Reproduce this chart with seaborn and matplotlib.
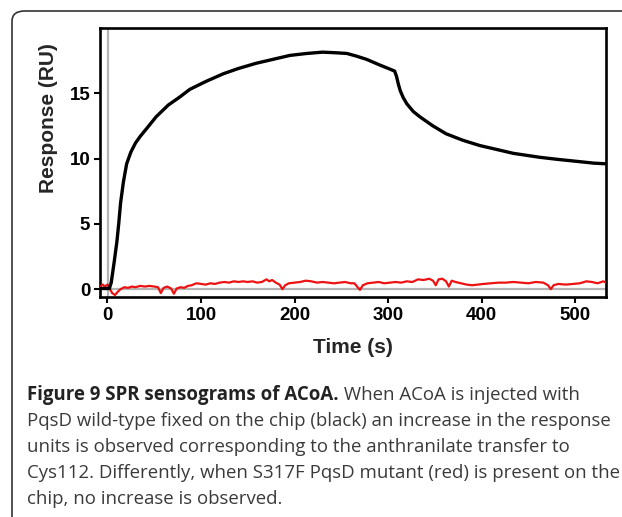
#%%
'''PACKAGE IMPORTS'''
import pandas as pd
import matplotlib.pyplot as plt
import numpy as np
import seaborn as sns
from matplotlib.patches import FancyBboxPatch

#%%
'''Data read off the sensogram'''
#PqsD wild-type (black trace)
wtTime = [-8, 2, 4, 7, 10, 12, 14, 17, 20.5, 25, 30, 35, 43, 52, 65, 77, 88,
          105, 124, 140, 159, 177, 195, 213, 230, 245, 256, 266, 277, 290,
          302, 307, 309, 311, 313, 316, 320, 327, 334, 348, 362, 380, 398,
          416, 434, 448, 462, 480, 500, 520, 533]
wtResp = [0.05, 0.05, 0.5, 2.0, 3.6, 5.0, 6.6, 8.2, 9.6, 10.5, 11.2, 11.7,
          12.4, 13.2, 14.1, 14.7, 15.3, 15.9, 16.5, 16.9, 17.3, 17.6, 17.9,
          18.05, 18.15, 18.1, 18.05, 17.85, 17.6, 17.2, 16.85, 16.7, 16.3,
          15.7, 15.2, 14.7, 14.2, 13.6, 13.2, 12.5, 11.9, 11.4, 11.0, 10.7,
          10.4, 10.25, 10.1, 9.95, 9.8, 9.65, 9.6]

#S317F PqsD mutant (red trace)
mutTime = [-8, -5, -3, 0, 2, 5, 8, 11, 14, 18, 22, 26, 30, 35, 40, 45, 50,
           54, 57, 60, 64, 68, 71, 74, 78, 82, 86, 90, 95, 100, 105, 110,
           115, 120, 125, 130, 135, 140, 145, 150, 155, 160, 165, 170, 173,
           176, 180, 184, 187, 190, 194, 200, 206, 212, 218, 224, 230, 236,
           242, 248, 254, 260, 264, 268, 270, 273, 278, 284, 290, 296, 302,
           308, 314, 320, 326, 332, 338, 344, 348, 351, 354, 358, 362, 365,
           368, 372, 378, 384, 390, 396, 402, 410, 418, 426, 434, 442, 450,
           458, 466, 471, 474, 477, 482, 490, 498, 505, 512, 518, 524, 530, 533]
mutResp = [0.2, 0.35, 0.2, 0.35, 0.1, -0.3, -0.45, -0.2, 0.0, 0.15, 0.1, 0.2,
           0.15, 0.25, 0.2, 0.25, 0.2, 0.15, -0.3, 0.1, 0.2, 0.05, -0.35,
           0.05, 0.15, 0.1, 0.25, 0.3, 0.45, 0.4, 0.35, 0.45, 0.4, 0.5, 0.55,
           0.5, 0.6, 0.55, 0.6, 0.55, 0.6, 0.5, 0.55, 0.75, 0.6, 0.7, 0.5,
           0.35, 0.0, 0.3, 0.45, 0.5, 0.55, 0.65, 0.6, 0.5, 0.55, 0.5, 0.45,
           0.5, 0.55, 0.45, 0.45, 0.1, -0.05, 0.3, 0.45, 0.5, 0.55, 0.45, 0.5,
           0.55, 0.5, 0.6, 0.55, 0.75, 0.7, 0.8, 0.65, 0.3, 0.75, 0.8, 0.6,
           0.2, 0.65, 0.55, 0.45, 0.35, 0.3, 0.35, 0.4, 0.45, 0.5, 0.5, 0.55,
           0.5, 0.45, 0.55, 0.5, 0.3, 0.0, 0.3, 0.4, 0.35, 0.4, 0.45, 0.6,
           0.55, 0.45, 0.6, 0.5]

xTicks = [0, 100, 200, 300, 400, 500]
yTicks = [0, 5, 10, 15]

captionBold = 'Figure 9 SPR sensograms of ACoA.'
captionLines = [' When ACoA is injected with',
                'PqsD wild-type fixed on the chip (black) an increase in the response',
                'units is observed corresponding to the anthranilate transfer to',
                'Cys112. Differently, when S317F PqsD mutant (red) is present on the',
                'chip, no increase is observed.']

wt = pd.DataFrame({'Time': wtTime, 'Response': wtResp})
mut = pd.DataFrame({'Time': mutTime, 'Response': mutResp})

#%%
'''Plot'''
sns.set_style('ticks')
plt.rcParams['font.family'] = ['Liberation Sans', 'DejaVu Sans']

fig = plt.figure(figsize=(6.22, 5.17), dpi=100)
ax = fig.add_axes([100/622, 1 - 297/517, 506/622, 269/517])

#Reference lines
ax.axvline(0.5, color='#b4b4b4', linewidth=1.6, zorder=1)
ax.hlines(0, 0.5, 533, color='#b4b4b4', linewidth=1.6, zorder=1)

sns.lineplot(data=mut, x='Time', y='Response', ax=ax,
             color='#ee1111', linewidth=1.6, zorder=3)
sns.lineplot(data=wt, x='Time', y='Response', ax=ax,
             color='black', linewidth=2.4, zorder=4)

#Figure Specifications
ax.set_xlim(-8, 533)
ax.set_ylim(-0.6, 20)
ax.set_xticks(xTicks)
ax.set_yticks(yTicks)
ax.tick_params(direction='out', length=4, width=1.5, pad=3,
               labelsize=13.5, colors='black')
for lab in ax.get_xticklabels() + ax.get_yticklabels():
    lab.set_fontweight('bold')
for sp in ax.spines.values():
    sp.set_linewidth(1.9)
    sp.set_color('black')

ax.set_xlabel('Time (s)', fontsize=15, fontweight='bold', labelpad=10)
ax.set_ylabel('Response (RU)', fontsize=15, fontweight='bold')
ax.yaxis.set_label_coords(-0.083, 0.665)

#Outer rounded frame
frame = FancyBboxPatch((12/622, -0.2), 1.2, 1 - 11/517 + 0.2,
                       boxstyle='round,pad=0,rounding_size=0.02',
                       transform=fig.transFigure, fill=False,
                       edgecolor='#333333', linewidth=1.2, clip_on=False)
fig.patches.append(frame)

#Caption
capFont = ['Open Sans', 'DejaVu Sans']
capSize = 13.4
capColor = '#3a3a3a'
t0 = fig.text(27/622, 1 - 400/517, captionBold, fontsize=capSize,
              fontweight='bold', family=capFont, color='#222222',
              va='baseline', ha='left')
fig.canvas.draw()
bb = t0.get_window_extent().transformed(fig.transFigure.inverted())
fig.text(bb.x1, 1 - 400/517, captionLines[0], fontsize=capSize,
         family=capFont, color=capColor, va='baseline', ha='left')
for i, line in enumerate(captionLines[1:]):
    fig.text(27/622, 1 - (400 + 26*(i + 1))/517, line, fontsize=capSize,
             family=capFont, color=capColor, va='baseline', ha='left')

plt.savefig('out.png', dpi=100)
